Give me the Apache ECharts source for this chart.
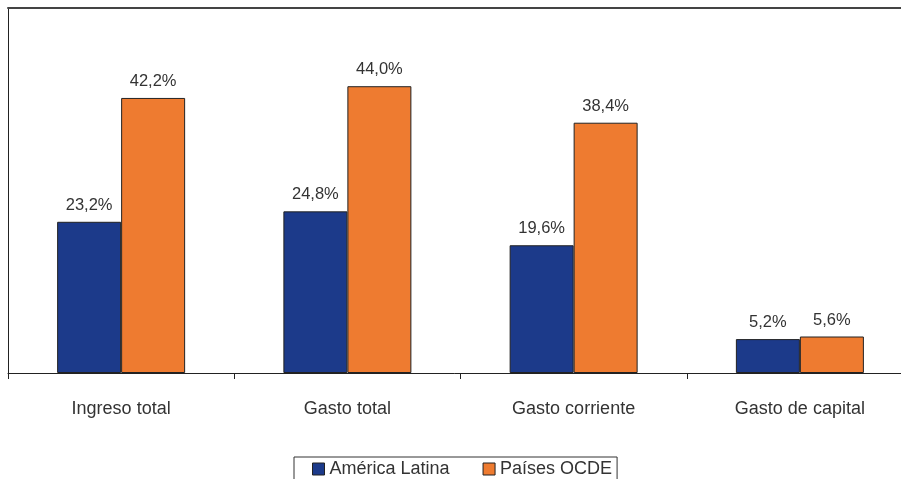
<!DOCTYPE html>
<html>
<head>
<meta charset="utf-8">
<script src="https://cdn.jsdelivr.net/npm/echarts@6/dist/echarts.min.js"></script>
<style>
  html, body { margin: 0; padding: 0; background: #fff; }
  #chart { width: 901px; height: 479px; }
</style>
</head>
<body>
<div id="chart"></div>
<script>
// Categories and values (% of GDP)
const categories = ['Ingreso total', 'Gasto total', 'Gasto corriente', 'Gasto de capital'];
const seriesNames = ['América Latina', 'Países OCDE'];
const americaLatina = [23.2, 24.8, 19.6, 5.2];
const paisesOCDE = [42.2, 44.0, 38.4, 5.6];

const fmt = v => v.toFixed(1).replace('.', ',') + '%';
const FONT = '"Liberation Sans", Arial, sans-serif';

const chart = echarts.init(document.getElementById('chart'), null, { renderer: 'canvas' });

const labelStyle = {
  show: true,
  position: 'top',
  distance: 8,
  color: '#333',
  fontSize: 16.5,
  fontFamily: FONT,
  formatter: p => fmt(p.value)
};

chart.setOption({
  animation: false,
  backgroundColor: '#fff',
  grid: { left: 8, top: 8, width: 905, height: 365, outerBoundsMode: 'none', containLabel: false },
  legend: {
    top: 457,
    left: 294,
    itemWidth: 12,
    itemHeight: 12,
    itemGap: 33,
    icon: 'rect',
    padding: [3, 5, 10, 18],
    borderColor: '#333',
    borderWidth: 1,
    textStyle: { color: '#333', fontSize: 18, fontFamily: FONT },
    itemStyle: { borderColor: '#222', borderWidth: 1 },
    data: seriesNames
  },
  xAxis: [
    {
      type: 'category',
      data: categories,
      axisLine: { lineStyle: { color: '#222', width: 1 } },
      axisTick: { show: true, length: 6, lineStyle: { color: '#222' } },
      axisLabel: { color: '#333', fontSize: 18, fontFamily: FONT, margin: 27 }
    },
    {
      type: 'category',
      position: 'top',
      data: categories,
      axisLine: { lineStyle: { color: '#444', width: 2 } },
      axisTick: { show: false },
      axisLabel: { show: false }
    }
  ],
  yAxis: {
    type: 'value',
    min: 0,
    max: 56,
    axisLine: { show: true, lineStyle: { color: '#222', width: 1 } },
    axisTick: { show: false },
    axisLabel: { show: false },
    splitLine: { show: false }
  },
  series: [
    {
      name: seriesNames[0],
      type: 'bar',
      data: americaLatina,
      barWidth: 64,
      barGap: '0%',
      itemStyle: { color: '#1c3a8a', borderColor: '#222', borderWidth: 1 },
      label: labelStyle
    },
    {
      name: seriesNames[1],
      type: 'bar',
      data: paisesOCDE,
      barWidth: 64,
      barGap: '0%',
      itemStyle: { color: '#ee7b30', borderColor: '#222', borderWidth: 1 },
      label: labelStyle
    }
  ]
});
</script>
</body>
</html>
